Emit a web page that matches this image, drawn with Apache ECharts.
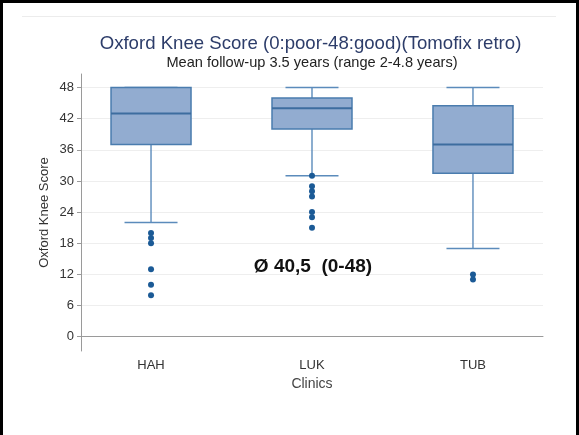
<!DOCTYPE html>
<html><head><meta charset="utf-8">
<script src="https://cdn.jsdelivr.net/npm/echarts@6/dist/echarts.min.js"></script>
<style>
html,body{margin:0;padding:0;background:#fff}
#wrap{position:relative;width:579px;height:435px;overflow:hidden}
#c{position:absolute;left:0;top:0;width:579px;height:435px}
#frame{position:absolute;left:0;top:0;width:579px;height:437px;box-sizing:border-box;border:3px solid #000;border-bottom:none;pointer-events:none}
#inner{position:absolute;left:22px;top:16px;width:534px;height:1px;background:#ececec;pointer-events:none}
</style></head><body>
<div id="wrap"><div id="c"></div><div id="inner"></div><div id="frame"></div></div>
<script>
const categories = ['HAH', 'LUK', 'TUB'];
const whiskerLow = [22, 31, 17];
const quartile1 = [37, 40, 31.5];
const medians = [43, 44, 37];
const quartile3 = [48, 46, 44.5];
const whiskerHigh = [48, 48, 48];
const outliersHAH = [20, 19, 18, 13, 10, 8];
const outliersLUK = [31, 29, 28, 27, 24, 23, 21];
const outliersTUB = [12, 11];
const yTicks = [0, 6, 12, 18, 24, 30, 36, 42, 48];

const outlierLists = [outliersHAH, outliersLUK, outliersTUB];
const boxData = categories.map((c, i) => [i + 1, whiskerLow[i], quartile1[i], medians[i], quartile3[i], whiskerHigh[i]]);
const outlierData = [];
outlierLists.forEach((list, i) => list.forEach(v => outlierData.push([i + 1, v])));

const FILL = '#92acd0', EDGE = '#4a7cae', MED = '#3d6d9f', WHISK = '#5b8bbb', DOT = '#1b5a96';
const HALF_BOX = 40, HALF_CAP = 26.5;

const chart = echarts.init(document.getElementById('c'), null, {renderer: 'canvas'});
chart.setOption({
  animation: false,
  backgroundColor: '#fff',
  grid: {left: 81, right: 36, top: 74, bottom: 84, outerBoundsMode: 'none'},
  xAxis: {
    type: 'value', min: 0.565, max: 3.435,
    axisLine: {show: true, lineStyle: {color: '#9a9a9a', width: 1}},
    axisTick: {show: false},
    splitLine: {show: false},
    axisLabel: {customValues: [1, 2, 3], formatter: v => categories[Math.round(v) - 1], fontSize: 13, color: '#333', margin: 8, fontFamily: 'Liberation Sans'},
    name: 'Clinics', nameLocation: 'middle', nameGap: 22,
    nameTextStyle: {fontSize: 14, color: '#444', fontFamily: 'Liberation Sans'}
  },
  yAxis: {
    type: 'value', min: -2.75, max: 50.6,
    axisLine: {show: true, lineStyle: {color: '#9a9a9a', width: 1}},
    axisTick: {show: true, length: 4, customValues: yTicks, lineStyle: {color: '#9a9a9a'}},
    axisLabel: {customValues: yTicks, fontSize: 13, color: '#333', margin: 7, fontFamily: 'Liberation Sans'},
    splitLine: {show: true, lineStyle: {color: '#eeeeee', width: 1}},
    name: 'Oxford Knee Score', nameLocation: 'middle', nameGap: 30, nameMoveOverlap: false,
    nameTextStyle: {fontSize: 13, color: '#333', fontFamily: 'Liberation Sans'}
  },
  graphic: [
    {type: 'text', x: 310.5, y: 44, style: {text: 'Oxford Knee Score (0:poor-48:good)(Tomofix retro)', textAlign: 'center', textVerticalAlign: 'middle', font: 'normal 18.6px "Liberation Sans"', fill: '#2d3d6a'}},
    {type: 'text', x: 312, y: 63, style: {text: 'Mean follow-up 3.5 years (range 2-4.8 years)', textAlign: 'center', textVerticalAlign: 'middle', font: 'normal 14.6px "Liberation Sans"', fill: '#222'}},
    {type: 'text', x: 313, y: 267, z: 10, style: {text: 'Ø 40,5  (0-48)', textAlign: 'center', textVerticalAlign: 'middle', font: 'bold 19px "Liberation Sans"', fill: '#111'}}
  ],
  series: [
    {
      type: 'custom',
      data: boxData,
      encode: {x: 0, y: [1, 2, 3, 4, 5]},
      renderItem: function (params, api) {
        const x = api.value(0);
        const lo = api.coord([x, api.value(1)]);
        const b1 = api.coord([x, api.value(2)]);
        const md = api.coord([x, api.value(3)]);
        const b3 = api.coord([x, api.value(4)]);
        const hi = api.coord([x, api.value(5)]);
        const cx = lo[0];
        const ws = {stroke: WHISK, lineWidth: 1.4};
        return {
          type: 'group',
          children: [
            {type: 'line', shape: {x1: cx, y1: b3[1], x2: cx, y2: hi[1]}, style: ws},
            {type: 'line', shape: {x1: cx, y1: b1[1], x2: cx, y2: lo[1]}, style: ws},
            {type: 'line', shape: {x1: cx - HALF_CAP, y1: hi[1], x2: cx + HALF_CAP, y2: hi[1]}, style: ws},
            {type: 'line', shape: {x1: cx - HALF_CAP, y1: lo[1], x2: cx + HALF_CAP, y2: lo[1]}, style: ws},
            {type: 'rect', shape: {x: cx - HALF_BOX, y: b3[1], width: 2 * HALF_BOX, height: b1[1] - b3[1]}, style: {fill: FILL, stroke: EDGE, lineWidth: 1.5}},
            {type: 'line', shape: {x1: cx - HALF_BOX, y1: md[1], x2: cx + HALF_BOX, y2: md[1]}, style: {stroke: MED, lineWidth: 2}}
          ]
        };
      }
    },
    {
      type: 'scatter',
      data: outlierData,
      symbol: 'circle',
      symbolSize: 6,
      itemStyle: {color: DOT, opacity: 1},
      z: 5
    }
  ]
});
</script>
</body></html>
